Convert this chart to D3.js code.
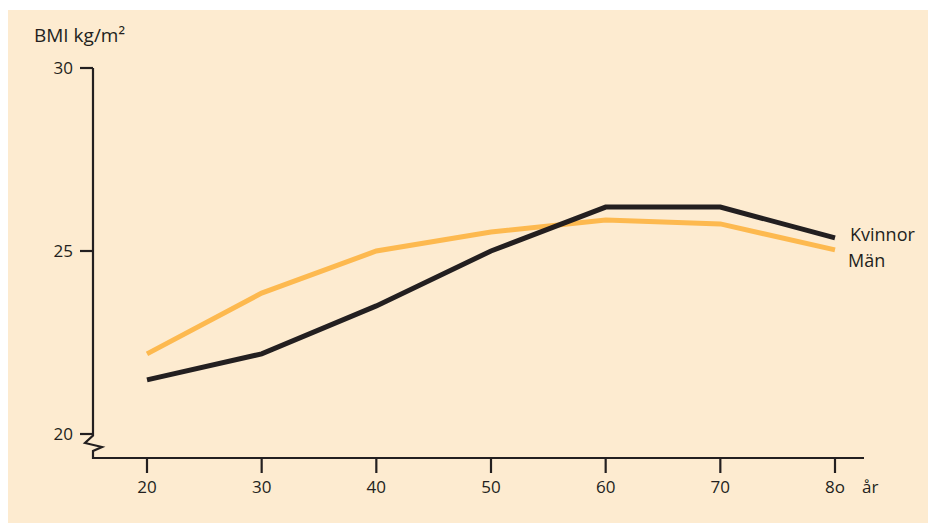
<!DOCTYPE html>
<html>
<head>
<meta charset="utf-8">
<script src="https://cdn.jsdelivr.net/npm/d3@7"></script>
<style>
  html, body { margin: 0; padding: 0; background: #ffffff; }
  svg { display: block; }
  text { font-family: "Open Sans", "Noto Sans", sans-serif; fill: #231f20; }
</style>
</head>
<body>
<svg id="chart" width="930" height="523"></svg>
<script>
const ages = [20, 30, 40, 50, 60, 70, 80];
const ageLabels = ["20", "30", "40", "50", "60", "70", "8o"];
const kvinnor = [21.48, 22.19, 23.5, 25.0, 26.2, 26.2, 25.36];
const man = [22.19, 23.85, 25.0, 25.52, 25.85, 25.74, 25.03];
const yTicks = [20, 25, 30];
const seriesNames = ["Kvinnor", "Män"];

const svg = d3.select("#chart");
const ink = "#231f20";
const orange = "#fdb94f";

svg.append("rect")
  .attr("x", 8).attr("y", 10).attr("width", 920).attr("height", 513)
  .attr("fill", "#fdebd0");

const x = d3.scaleLinear().domain([20, 80]).range([147, 835]);
const y = d3.scaleLinear().domain([20, 30]).range([434, 68]);

const axisX = 93, axisY = 458;

const g = svg.append("g");
g.append("path")
  .attr("d", `M${axisX},${y(30)} L${axisX},${y(20) + 1.5} L${axisX - 8},${y(20) + 9} L${axisX + 9},${y(20) + 13} L${axisX},${y(20) + 17} L${axisX},${axisY} L864,${axisY}`)
  .attr("fill", "none").attr("stroke", ink).attr("stroke-width", 2.2)
  .attr("stroke-linejoin", "miter");

yTicks.forEach(t => {
  g.append("line").attr("x1", axisX - 13).attr("x2", axisX)
    .attr("y1", y(t)).attr("y2", y(t)).attr("stroke", ink).attr("stroke-width", 2.2);
  g.append("text").attr("x", axisX - 20).attr("y", y(t) + 6)
    .attr("text-anchor", "end").attr("font-size", 17).text(t);
});

ages.forEach((a, i) => {
  g.append("line").attr("x1", x(a)).attr("x2", x(a))
    .attr("y1", axisY).attr("y2", axisY + 15).attr("stroke", ink).attr("stroke-width", 2.2);
  g.append("text").attr("x", x(a)).attr("y", 493)
    .attr("text-anchor", "middle").attr("font-size", 17).text(ageLabels[i]);
});

svg.append("text").attr("x", 862).attr("y", 493).attr("font-size", 17).text("år");

svg.append("text").attr("x", 34).attr("y", 42).attr("font-size", 19).text("BMI kg/m²");

const line = d3.line().x((d, i) => x(ages[i])).y(d => y(d));

svg.append("path").datum(man).attr("d", line)
  .attr("fill", "none").attr("stroke", orange).attr("stroke-width", 5);
svg.append("path").datum(kvinnor).attr("d", line)
  .attr("fill", "none").attr("stroke", ink).attr("stroke-width", 5);

svg.append("text").attr("x", 850).attr("y", 241).attr("font-size", 18).text(seriesNames[0]);
svg.append("text").attr("x", 848).attr("y", 267).attr("font-size", 18).text(seriesNames[1]);
</script>
</body>
</html>
